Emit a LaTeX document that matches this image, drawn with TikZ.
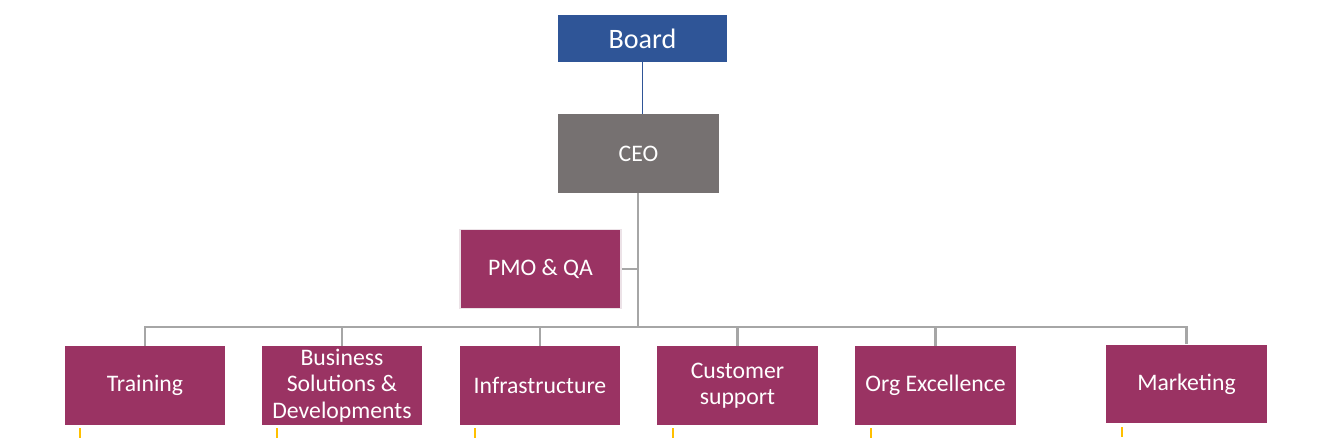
\documentclass[tikz,border=0pt]{standalone}
\usepackage{fontspec}
\setmainfont{Carlito}
\definecolor{boardblue}{RGB}{47,85,151}
\definecolor{ceogray}{RGB}{118,113,113}
\definecolor{unitplum}{RGB}{154,51,99}
\definecolor{linkgray}{RGB}{166,166,166}
\definecolor{tickgold}{RGB}{255,192,0}
\begin{document}
\begin{tikzpicture}[x=0.02cm,y=-0.02cm]
			\useasboundingbox (0,0) rectangle (1323,438);
			\tikzstyle{box}=[inner sep=0pt, text=white, align=center, minimum width=3.22cm, minimum height=1.58cm, font=\fontsize{13.5}{15}\selectfont]
			\tikzstyle{unit}=[box, fill=unitplum]
			\tikzstyle{link}=[linkgray, line width=1.3pt]
			\tikzstyle{tickline}=[tickgold, line width=1pt]
			% top of the chart
			\node[box, fill=boardblue, minimum width=3.38cm, minimum height=0.94cm, font=\fontsize{16}{19}\selectfont] (board) at (642.5,38.5) {Board};
			\node[box, fill=ceogray] (ceo) at (638.5,153.5) {CEO};
			\node[unit, draw={rgb,255:red,236;green,226;blue,231}, line width=1pt] (pmo) at (540.5,269) {PMO \& QA};
			% departments
			\node[unit] (training) at (145,385.5) {Training};
			\node[unit] (business) at (342,385.5) {Business\\Solutions \&\\Developments};
			\node[unit] (infra) at (540,385.5) {Infrastructure};
			\node[unit] (customer) at (737.5,385.5) {Customer\\support};
			\node[unit] (org) at (935.5,385.5) {Org Excellence};
			\node[unit] (marketing) at (1186.5,384) {Marketing};
			\coordinate (bus) at (638,327);
			% connectors
			\draw[boardblue, line width=0.6pt] (board.south) -- (board.south |- ceo.north);
			\draw[link] (ceo.south -| bus) -- (bus);
			\draw[link] (pmo.east) -- (pmo.east -| bus);
			\foreach \n in {training,business,infra,customer,org,marketing}
				\draw[link] (\n.north) |- (bus);
			\foreach \n in {training,business,infra,customer,org,marketing}
				\draw[tickline] ([shift={(16,3)}]\n.south west) -- ++(0,10);
		\end{tikzpicture}
\end{document}
